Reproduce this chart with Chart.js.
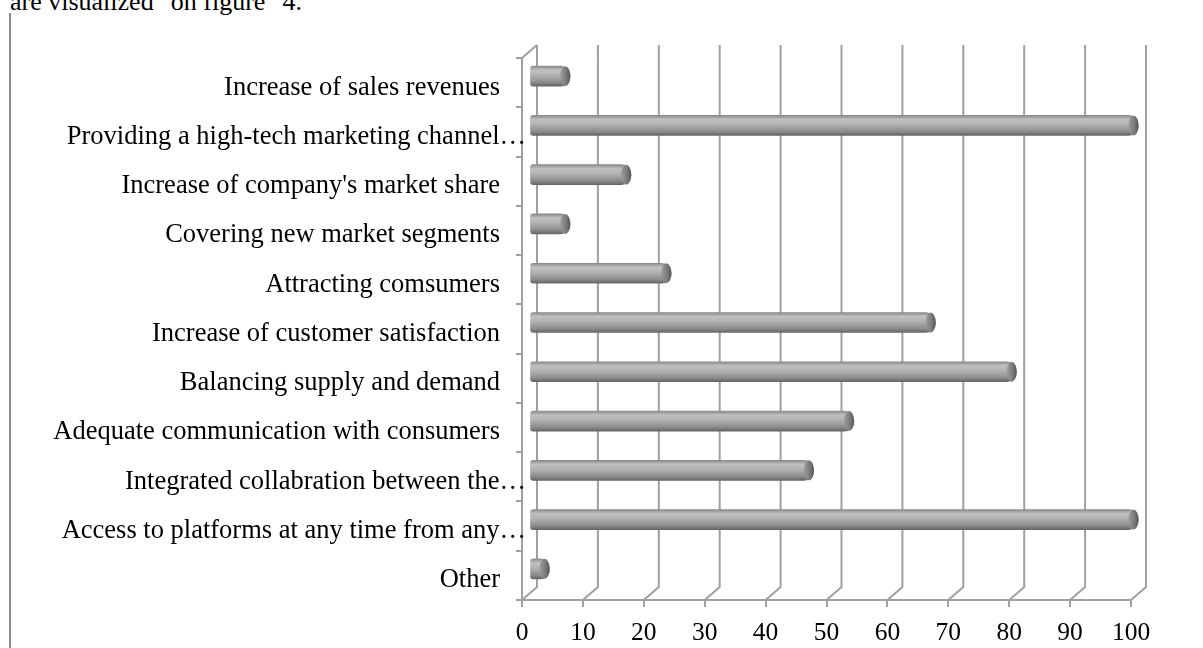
<!DOCTYPE html>
<html>
<head>
<meta charset="utf-8">
<script src="https://cdn.jsdelivr.net/npm/chart.js@4.4.0/dist/chart.umd.min.js"></script>
<style>
  html, body { margin: 0; padding: 0; background: #fff; }
  #wrap { position: relative; width: 1203px; height: 648px; overflow: hidden; }
  #caption {
    position: absolute; left: 10px; top: -13px;
    font: 26px "Liberation Serif", "Times New Roman", serif;
    line-height: 30px; color: #000; white-space: pre;
  }
  #pageLine { position: absolute; left: 9px; top: 13px; width: 2px; height: 635px; background: #8c8c8c; }
  #chart { position: absolute; left: 0; top: 0; }
</style>
</head>
<body>
<div id="wrap">
  <div id="caption">are visualized "on figure" 4.</div>
  <div id="pageLine"></div>
  <canvas id="chart" width="1203" height="648"></canvas>
</div>
<script>
"use strict";

// survey answers, share of respondents (%), top to bottom
const categories = [
  "Increase of sales revenues",
  "Providing a high-tech marketing channel…",
  "Increase of company's market share",
  "Covering new market segments",
  "Attracting comsumers",
  "Increase of customer satisfaction",
  "Balancing supply and demand",
  "Adequate communication with consumers",
  "Integrated collabration between the…",
  "Access to platforms at any time from any…",
  "Other"
];
const values = [6.7, 100, 16.7, 6.7, 23.3, 66.7, 80, 53.3, 46.7, 100, 3.3];
const xTicks = [0, 10, 20, 30, 40, 50, 60, 70, 80, 90, 100];

const FONT = '"Liberation Serif", "Times New Roman", serif';
const GRID = "#a0a0a0";
const DX = 15;   // depth offset of the back wall
const DY = 13;
const BAR = 20;

// fake 3d: back wall grid, then bars pushed half way into the depth
const depthPlugin = {
  id: "depth",
  beforeDatasetsDraw(chart) {
    const { ctx, chartArea: a, scales: { x } } = chart;
    ctx.save();
    ctx.strokeStyle = GRID;
    ctx.lineWidth = 2;
    ctx.beginPath();
    xTicks.forEach((v) => {
      const px = x.getPixelForValue(v);
      ctx.moveTo(px, a.bottom);
      ctx.lineTo(px + DX, a.bottom - DY);
      ctx.lineTo(px + DX, a.top - DY);
    });
    ctx.moveTo(a.left, a.top);
    ctx.lineTo(a.left + DX, a.top - DY);
    ctx.stroke();
    ctx.restore();

    ctx.save();
    ctx.translate(DX / 2, -DY / 2);
  },
  afterDatasetsDraw(chart) {
    const ctx = chart.ctx;
    const meta = chart.getDatasetMeta(0);
    meta.data.forEach((bar) => {
      const { x, y, height } = bar.getProps(["x", "y", "height"], true);
      const rx = 5;
      const g = ctx.createLinearGradient(x - 2 * rx, 0, x, 0);
      g.addColorStop(0, "#9c9c9c");
      g.addColorStop(0.6, "#7a7a7a");
      g.addColorStop(1, "#555");
      ctx.beginPath();
      ctx.ellipse(x - rx, y, rx, height / 2, 0, 0, Math.PI * 2);
      ctx.fillStyle = g;
      ctx.fill();
    });
    ctx.restore();
  },
  // category labels: cut-off ones run a bit further right, like in the original
  afterDraw(chart) {
    const { ctx, scales: { y } } = chart;
    ctx.save();
    ctx.font = "26.5px " + FONT;
    ctx.fillStyle = "#000";
    ctx.textAlign = "right";
    ctx.textBaseline = "middle";
    categories.forEach((label, i) => {
      const right = label.endsWith("…") ? 526 : 500;
      ctx.fillText(label, right, y.getPixelForTick(i) + 5);
    });
    ctx.restore();
  }
};

function barGradient(context) {
  const chart = context.chart;
  if (!chart.chartArea) return "#aaa";
  const y = chart.scales.y.getPixelForValue(context.dataIndex);
  const g = chart.ctx.createLinearGradient(0, y - BAR / 2, 0, y + BAR / 2);
  g.addColorStop(0, "#8a8a8a");
  g.addColorStop(0.2, "#c0c0c0");
  g.addColorStop(0.45, "#b2b2b2");
  g.addColorStop(0.8, "#8d8d8d");
  g.addColorStop(1, "#666");
  return g;
}

new Chart(document.getElementById("chart"), {
  type: "bar",
  data: {
    labels: categories,
    datasets: [
      {
        data: values,
        backgroundColor: barGradient,
        borderWidth: 0,
        borderSkipped: false,
        borderRadius: { topLeft: 3, bottomLeft: 3, topRight: 10, bottomRight: 10 },
        barThickness: BAR,
        clip: false
      }
    ]
  },
  options: {
    indexAxis: "y",
    responsive: false,
    animation: false,
    devicePixelRatio: 1,
    layout: { padding: { top: 58, right: 72, left: 0, bottom: 0 } },
    plugins: {
      legend: { display: false },
      tooltip: { enabled: false }
    },
    scales: {
      x: {
        min: 0,
        max: 100,
        afterBuildTicks: (s) => { s.ticks = xTicks.map((v) => ({ value: v })); },
        ticks: { color: "#000", font: { family: FONT, size: 25.5 }, padding: 11, maxRotation: 0 },
        grid: { drawOnChartArea: false, tickLength: 7, color: GRID, lineWidth: 2 },
        border: { color: GRID, width: 2 },
        afterFit: (s) => { s.height = 48; }
      },
      y: {
        ticks: { display: false },
        grid: { offset: true, drawOnChartArea: false, tickLength: 6, color: GRID, lineWidth: 2 },
        border: { color: GRID, width: 2 },
        afterFit: (s) => { s.width = 522; }
      }
    }
  },
  plugins: [depthPlugin]
});
</script>
</body>
</html>
